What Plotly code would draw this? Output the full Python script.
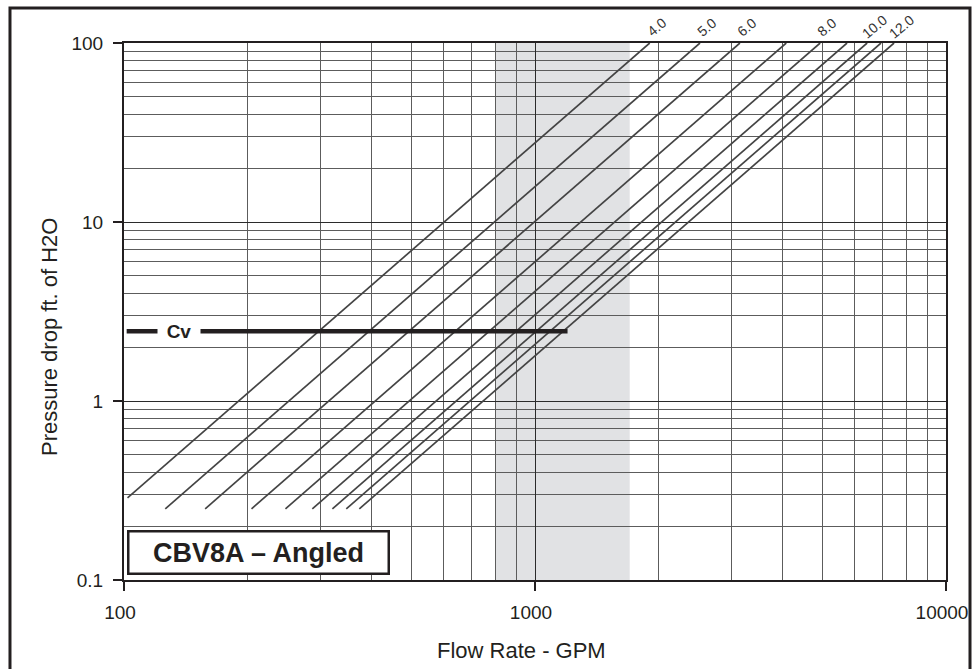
import math
import plotly.graph_objects as go

# Valve settings and the flow coefficient (Cv) of each setting line
settings = ["4.0", "5.0", "6.0", "7.0", "8.0", "9.0", "10.0", "11.0", "12.0"]
cv_values = [289, 383, 479, 621, 751, 873, 977, 1056, 1136]
labelled_settings = ["4.0", "5.0", "6.0", "8.0", "10.0", "12.0"]

# Pressure drop range drawn for each setting line (ft of H2O) and minimum flow (GPM)
dp_start = 0.25
dp_end = 100.0
flow_min = 102.0

# Reference Cv line
cv_line_dp = 2.45
cv_line_flow = [101.5, 1200.0]
cv_label_flow = 136.0

# Shaded operating band (GPM)
band_flow = [800.0, 1700.0]

# Axis ticks
x_tickvals = [100, 1000, 10000]
x_ticktext = ["100", "1000", "10000"]
y_tickvals = [0.1, 1, 10, 100]
y_ticktext = ["0.1", "1", "10", "100"]

FT_PER_PSI = 2.31
INK = "#231f20"
FONT = "Arial, Liberation Sans, Helvetica, sans-serif"


def flow_at(cv, dp):
    """Flow (GPM) through a valve of coefficient cv at pressure drop dp (ft H2O)."""
    return cv * math.sqrt(dp / FT_PER_PSI)


def drop_at(cv, q):
    return FT_PER_PSI * (q / cv) ** 2


fig = go.Figure()

for name, cv in zip(settings, cv_values):
    q0 = max(flow_at(cv, dp_start), flow_min)
    q1 = flow_at(cv, dp_end)
    fig.add_trace(go.Scatter(
        x=[q0, q1], y=[drop_at(cv, q0), drop_at(cv, q1)],
        mode="lines", line=dict(color="#444444", width=1.7),
        name=name, hoverinfo="skip", showlegend=False,
    ))
    if name in labelled_settings:
        fig.add_annotation(
            x=math.log10(q1), y=math.log10(dp_end), text=name,
            showarrow=False, textangle=-40, xshift=7, yshift=16,
            xanchor="center", yanchor="middle",
            font=dict(family=FONT, size=14, color="#333333"),
        )

# Thick Cv reference line with its label
fig.add_trace(go.Scatter(
    x=cv_line_flow, y=[cv_line_dp, cv_line_dp], mode="lines",
    line=dict(color=INK, width=4.5), hoverinfo="skip", showlegend=False,
))
fig.add_annotation(
    x=math.log10(cv_label_flow), y=math.log10(cv_line_dp), text="<b>Cv</b>",
    showarrow=False, bgcolor="white", width=42, borderpad=0,
    xanchor="center", yanchor="middle",
    font=dict(family=FONT, size=19, color=INK),
)

# Shaded flow band behind the grid
fig.add_shape(
    type="rect", xref="x", yref="y domain",
    x0=band_flow[0], x1=band_flow[1], y0=0, y1=1,
    fillcolor="#e1e2e4", line=dict(width=0), layer="below",
)

# Model name box
fig.add_annotation(
    xref="paper", yref="paper", x=0.1642, y=0.0503,
    xanchor="center", yanchor="middle",
    text="<b>CBV8A – Angled</b>", showarrow=False,
    bgcolor="white", bordercolor=INK, borderwidth=2.5, borderpad=0,
    width=258, height=40,
    font=dict(family=FONT, size=27, color=INK),
)

# Axis titles
fig.add_annotation(
    xref="paper", yref="paper", x=-0.0912, y=0.4525,
    xanchor="center", yanchor="middle",
    text="Pressure drop ft. of H2O", textangle=-90, showarrow=False,
    font=dict(family=FONT, size=22, color=INK),
)
fig.add_annotation(
    xref="paper", yref="paper", x=0.483, y=-0.1322,
    xanchor="center", yanchor="middle",
    text="Flow Rate - GPM", showarrow=False,
    font=dict(family=FONT, size=22, color=INK),
)

# Outer frame
fig.add_shape(
    type="rect", xref="paper", yref="paper",
    x0=-0.1387, x1=1.0292, y0=-0.22, y1=1.0652,
    line=dict(color=INK, width=3), fillcolor="rgba(0,0,0,0)", layer="above",
)

x_minor = [k * 10 ** d for d in (2, 3) for k in range(2, 10)]
y_minor = [k * 10 ** d for d in (-1, 0, 1) for k in range(2, 10)]

axis_common = dict(
    type="log", showline=True, linecolor=INK, linewidth=2, mirror=True,
    ticks="outside", ticklen=9, tickwidth=1.5, tickcolor=INK,
    showgrid=True, gridcolor="#2b2b2b", gridwidth=1.2,
    tickfont=dict(family=FONT, size=19, color=INK),
    zeroline=False, automargin=False,
)

fig.update_xaxes(
    **axis_common, range=[2, 4], tickmode="array",
    tickvals=x_tickvals, ticktext=x_ticktext,
    ticklabelstandoff=5, ticklabelshift=-4,
    minor=dict(tickmode="array", tickvals=x_minor, showgrid=True,
               gridcolor="#5c5c5c", gridwidth=1, ticks=""),
)
fig.update_yaxes(
    **axis_common, range=[-1, 2], tickmode="array",
    tickvals=y_tickvals, ticktext=y_ticktext, ticklabelstandoff=6,
    minor=dict(tickmode="array", tickvals=y_minor, showgrid=True,
               gridcolor="#5c5c5c", gridwidth=1, ticks=""),
)

fig.update_layout(
    width=973, height=669,
    margin=dict(l=124, r=27, t=43, b=89),
    paper_bgcolor="white", plot_bgcolor="white",
    showlegend=False,
)

fig.write_html("out.html")
